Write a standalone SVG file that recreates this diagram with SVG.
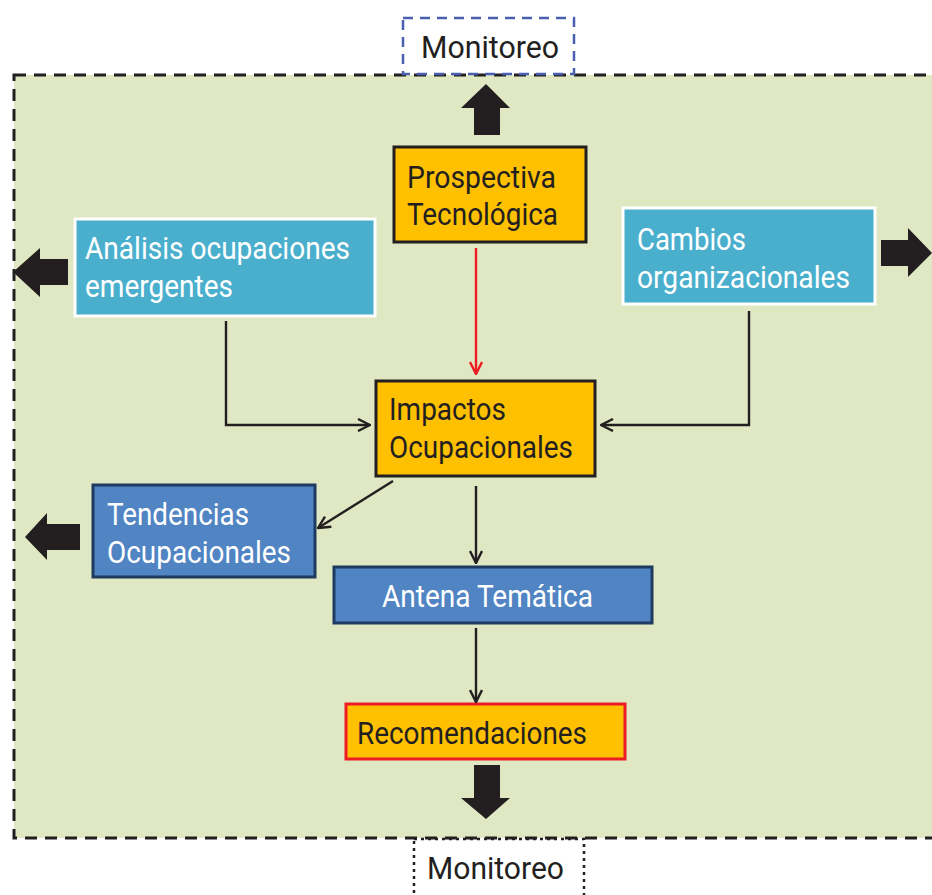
<svg xmlns="http://www.w3.org/2000/svg" width="932" height="895" viewBox="0 0 932 895">
<defs>
<style>
.t{font-family:Roboto,"Liberation Sans",sans-serif;font-size:32px;fill:#231f20}
.w{fill:#ffffff}
.gold{fill:#ffc000;stroke:#231f20;stroke-width:3}
.teal{fill:#4aafcd;stroke:#ffffff;stroke-width:3}
.blue{fill:#5084c2;stroke:#1f3a60;stroke-width:3}
.con{fill:none;stroke:#231f20;stroke-width:2.4}
.big{fill:#231f20}
</style>
<marker id="ah" viewBox="0 0 14 14" refX="13" refY="7" markerWidth="14" markerHeight="14" markerUnits="userSpaceOnUse" orient="auto">
<path d="M1,1 L13,7 L1,13" fill="none" stroke="#231f20" stroke-width="2.4"/>
</marker>
<marker id="ahr" viewBox="0 0 14 14" refX="13" refY="7" markerWidth="14" markerHeight="14" markerUnits="userSpaceOnUse" orient="auto">
<path d="M1,1 L13,7 L1,13" fill="none" stroke="#ed1c24" stroke-width="2.4"/>
</marker>
</defs>
<rect x="0" y="0" width="932" height="895" fill="#ffffff"/>
<g id="frame">
<rect x="14" y="75" width="930" height="763" fill="#dfe8c2" stroke="#231f20" stroke-width="3" stroke-dasharray="12,8"/>
</g>
<g id="monitoreo-top">
<rect x="403" y="18" width="171" height="56" fill="none" stroke="#4a5fb0" stroke-width="2.5" stroke-dasharray="10,7"/>
<text class="t" x="421" y="58" textLength="138" lengthAdjust="spacingAndGlyphs">Monitoreo</text>
</g>
<g id="monitoreo-bottom">
<rect x="414" y="839" width="170" height="60" fill="none" stroke="#231f20" stroke-width="2.5" stroke-dasharray="3,4"/>
<text class="t" x="427" y="879" textLength="137" lengthAdjust="spacingAndGlyphs">Monitoreo</text>
</g>
<g id="prospectiva">
<rect class="gold" x="394" y="147" width="192" height="95"/>
<text class="t" x="407" y="188" textLength="149" lengthAdjust="spacingAndGlyphs">Prospectiva</text>
<text class="t" x="407" y="225" textLength="151" lengthAdjust="spacingAndGlyphs">Tecnológica</text>
</g>
<g id="analisis">
<rect class="teal" x="75" y="219" width="300" height="97"/>
<text class="t w" x="85" y="259" textLength="265" lengthAdjust="spacingAndGlyphs">Análisis ocupaciones</text>
<text class="t w" x="85" y="297" textLength="148" lengthAdjust="spacingAndGlyphs">emergentes</text>
</g>
<g id="cambios">
<rect class="teal" x="623" y="208" width="252" height="96"/>
<text class="t w" x="637" y="250" textLength="109" lengthAdjust="spacingAndGlyphs">Cambios</text>
<text class="t w" x="637" y="288" textLength="213" lengthAdjust="spacingAndGlyphs">organizacionales</text>
</g>
<g id="impactos">
<rect class="gold" x="376" y="381" width="219" height="95"/>
<text class="t" x="389" y="420" textLength="117" lengthAdjust="spacingAndGlyphs">Impactos</text>
<text class="t" x="389" y="458" textLength="184" lengthAdjust="spacingAndGlyphs">Ocupacionales</text>
</g>
<g id="tendencias">
<rect class="blue" x="93" y="485" width="222" height="92"/>
<text class="t w" x="107" y="525" textLength="142" lengthAdjust="spacingAndGlyphs">Tendencias</text>
<text class="t w" x="107" y="563" textLength="184" lengthAdjust="spacingAndGlyphs">Ocupacionales</text>
</g>
<g id="antena">
<rect class="blue" x="334" y="567" width="318" height="56"/>
<text class="t w" x="382" y="607" textLength="211" lengthAdjust="spacingAndGlyphs">Antena Temática</text>
</g>
<g id="recomendaciones">
<rect x="346" y="704" width="279" height="55" fill="#ffc000" stroke="#ed1c24" stroke-width="3"/>
<text class="t" x="357" y="744" textLength="230" lengthAdjust="spacingAndGlyphs">Recomendaciones</text>
</g>
<g id="connectors">
<path class="con" d="M476,248 L476,374" style="stroke:#ed1c24" marker-end="url(#ahr)"/>
<path class="con" d="M226,321 L226,425 L370,425" marker-end="url(#ah)"/>
<path class="con" d="M749,311 L749,425 L601,425" marker-end="url(#ah)"/>
<path class="con" d="M393,481 L318,528" marker-end="url(#ah)"/>
<path class="con" d="M476,486 L476,563" marker-end="url(#ah)"/>
<path class="con" d="M476,628 L476,702" marker-end="url(#ah)"/>
<polygon class="big" points="474,135 500,135 500,108 510,108 486,84 461,108 474,108"/>
<polygon class="big" points="68,259 68,285 40,285 40,297 13,272 40,248 40,259"/>
<polygon class="big" points="881,240 881,266 908,266 908,277 932,253 908,228 908,240"/>
<polygon class="big" points="80,524 80,550 47,550 47,560 25,537 47,513 47,524"/>
<polygon class="big" points="474,765 500,765 500,798 510,798 486,819 461,798 474,798"/>
</g>
</svg>
